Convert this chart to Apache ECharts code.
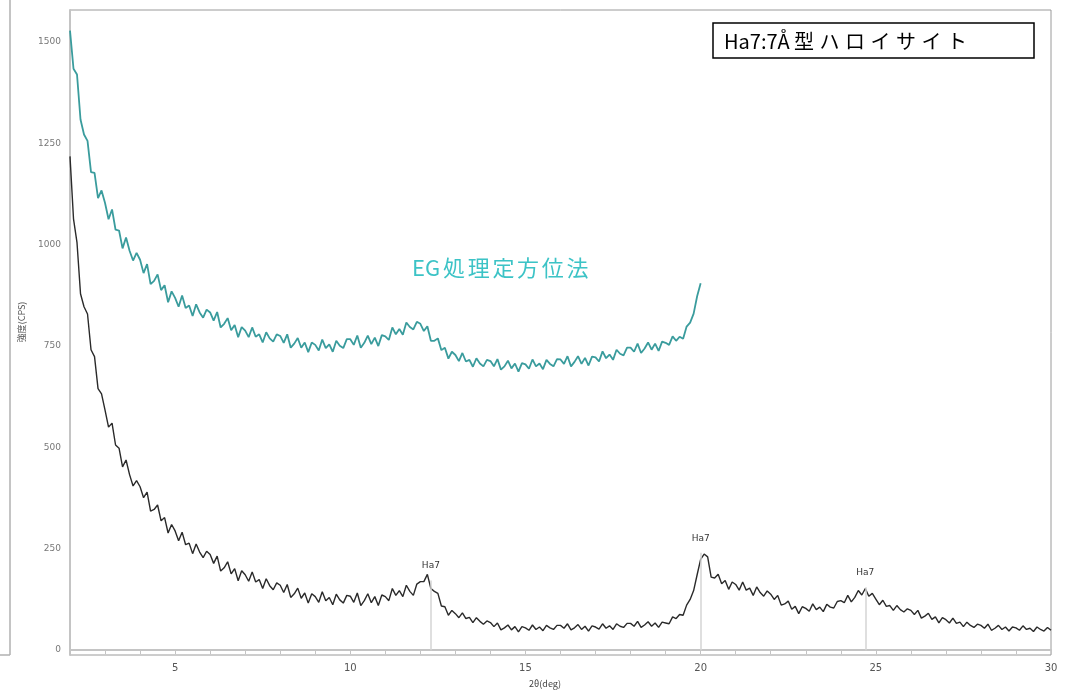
<!DOCTYPE html>
<html><head><meta charset="utf-8">
<script src="https://cdn.jsdelivr.net/npm/echarts@6/dist/echarts.min.js"></script>
<style>html,body{margin:0;padding:0;background:#fff}#c{width:1065px;height:690px}</style>
</head><body><div id="c"></div>
<script>
// 2θ sampling of both scans (deg)
const thetaStart = 2.0;
const thetaStep = 0.1;

// Untreated sample (black), 2.0° … 30.0°
const haloysiteCounts = [
1218,1064,1005,879,847,829,741,724,645,632,
592,550,560,506,498,452,469,433,405,418,
403,376,390,343,347,358,319,327,289,310,
294,270,291,260,264,238,262,242,228,244,
236,214,232,195,203,218,188,201,171,196,
186,170,193,168,174,152,176,159,149,166,
160,142,162,130,139,153,128,141,116,139,
132,118,144,122,130,112,138,124,116,135,
133,118,141,110,122,139,117,132,110,136,
132,122,152,135,147,132,160,145,135,163,
169,169,187,152,145,140,109,107,86,98,
90,80,92,78,81,68,80,71,64,72,
68,58,67,50,55,62,50,58,45,58,
55,49,62,51,57,48,61,55,51,61,
61,54,65,50,55,63,51,59,47,60,
57,52,65,54,60,51,65,59,56,66,
66,59,71,56,62,70,59,67,56,69,
67,65,82,78,88,86,111,125,147,186,
224,237,230,180,178,187,164,172,150,168,
162,148,168,148,153,135,156,142,133,146,
138,125,135,111,114,121,101,108,90,107,
103,96,114,100,106,95,113,106,104,120,
122,117,135,119,130,147,136,152,133,140,
126,112,123,108,110,98,110,100,94,102,
98,88,98,79,84,91,76,82,67,80,
75,67,79,66,69,58,69,61,56,64,
61,54,64,49,54,61,51,57,47,57,
55,49,60,51,54,46,57,51,47,56,
49];

// EG treated, oriented (teal), 2.0° … 20.0°
const egCounts = [
1528,1434,1420,1309,1272,1256,1179,1177,1115,1134,
1103,1063,1087,1037,1035,991,1018,985,961,980,
963,930,952,903,911,927,888,900,858,885,
869,847,875,844,850,824,853,833,820,840,
833,813,834,796,805,819,789,802,772,797,
788,772,796,773,779,759,784,769,761,779,
775,758,779,746,756,770,746,759,735,759,
753,739,766,745,754,736,763,751,745,767,
767,753,776,746,758,776,755,771,750,777,
774,765,796,779,792,778,808,797,791,810,
805,787,799,763,763,769,740,746,719,736,
728,713,733,712,716,699,720,707,700,716,
713,700,718,692,700,714,695,707,687,708,
705,694,717,700,707,693,716,706,700,718,
717,706,725,700,711,725,706,721,702,724,
722,712,737,720,729,716,741,731,727,746,
746,736,756,733,744,759,741,756,738,761,
758,753,774,763,773,768,798,808,830,873,
905];

const xTickValues = [2,3,4,5,6,7,8,9,10,11,12,13,14,15,16,17,18,19,20,21,22,23,24,25,26,27,28,29,30];
const xLabelValues = [5,10,15,20,25,30];
const yLabelValues = [0,250,500,750,1000,1250,1500];

// Ha7 peak markers
const ha7Positions = [12.3, 20.0, 24.7];
const ha7Heights = [172, 240, 155];
const ha7Label = 'Ha7';

const legendLatin = 'Ha7:7Å';
const legendKana = '型ハロイサイト';
const egLatin = 'EG';
const egKanji = '処理定方位法';
const xName = '2θ(deg)';
const yName = '強度(CPS)';

function toPairs(arr) {
  return arr.map((v, i) => [Math.round((thetaStart + i * thetaStep) * 10) / 10, v]);
}
function spaced(latin, cjk) {
  return '{l|' + latin + '}' + Array.from(cjk).map(ch => '{c|' + ch + '}').join('');
}

const chart = echarts.init(document.getElementById('c'), null, {renderer: 'canvas'});
const option = {
  animation: false,
  backgroundColor: '#fff',
  grid: {left: 70, right: 14, top: 10, bottom: 35, show: true, borderColor: '#9a9a9a', borderWidth: 1},
  xAxis: {
    type: 'value', min: 2, max: 30,
    axisLine: {show: true, lineStyle: {color: '#c4c4c4', width: 2}},
    axisTick: {show: true, customValues: xTickValues, length: 4, lineStyle: {color: '#c4c4c4'}},
    axisLabel: {customValues: xLabelValues, color: '#555', fontSize: 10, margin: 8, fontFamily: 'DejaVu Sans'},
    splitLine: {show: false}
  },
  yAxis: {
    type: 'value', min: -12, max: 1579,
    axisLine: {show: true, lineStyle: {color: '#c4c4c4', width: 2}},
    axisTick: {show: false},
    axisLabel: {customValues: yLabelValues, formatter: v => String(v), color: '#777', fontSize: 9, margin: 9, fontFamily: 'DejaVu Sans'},
    splitLine: {show: false}
  },
  series: [
    {
      type: 'line', name: 'untreated', data: toPairs(haloysiteCounts),
      showSymbol: false, symbol: 'none',
      lineStyle: {color: '#2a2a2a', width: 1.4},
      z: 3,
      markLine: {
        silent: true, symbol: ['none', 'none'],
        lineStyle: {color: '#d4d4d4', width: 1.5, type: 'solid'},
        label: {show: true, position: 'end', formatter: ha7Label, fontSize: 9, color: '#333', distance: 10, fontFamily: 'DejaVu Sans'},
        data: ha7Positions.map((p, i) => [{coord: [p, 0]}, {coord: [p, ha7Heights[i]]}])
      }
    },
    {
      type: 'line', name: 'EG', data: toPairs(egCounts),
      showSymbol: false, symbol: 'none',
      lineStyle: {color: '#3a9c9d', width: 1.8},
      z: 4
    }
  ],
  graphic: [
    {type: 'line', shape: {x1: 10, y1: 0, x2: 10, y2: 655}, style: {stroke: '#b0b0b0', lineWidth: 1.5}},
    {type: 'line', shape: {x1: 0, y1: 655, x2: 10, y2: 655}, style: {stroke: '#b0b0b0', lineWidth: 1.5}},
    {type: 'rect', shape: {x: 713, y: 23, width: 321, height: 35}, style: {fill: '#fff', stroke: '#000', lineWidth: 1.5}, z: 10},
    {type: 'text', x: 724, y: 41, z: 11, style: {
      text: spaced(legendLatin, legendKana), fill: '#000', verticalAlign: 'middle',
      rich: {
        l: {fontSize: 20, fontFamily: 'Noto Sans CJK JP', width: 70, fill: '#000'},
        c: {fontSize: 20, fontFamily: 'Noto Sans CJK JP', width: 25.5, fill: '#000'}
      }}},
    {type: 'text', x: 412, y: 268, z: 11, style: {
      text: spaced(egLatin, egKanji), fill: '#3cc3c6', verticalAlign: 'middle',
      rich: {
        l: {fontSize: 22, fontFamily: 'Noto Sans CJK JP', width: 31, fill: '#3cc3c6'},
        c: {fontSize: 22, fontFamily: 'Noto Sans CJK JP', width: 24.7, fill: '#3cc3c6'}
      }}},
    {type: 'text', x: 545, y: 684, z: 11, style: {text: xName, font: '9px "Noto Sans CJK JP"', fill: '#444', align: 'center', verticalAlign: 'middle'}},
    {type: 'text', x: 22, y: 322, rotation: Math.PI / 2, z: 11, style: {text: yName, font: '9px "Noto Sans CJK JP"', fill: '#555', align: 'center', verticalAlign: 'middle'}}
  ]
};
chart.setOption(option);
</script>
</body></html>
